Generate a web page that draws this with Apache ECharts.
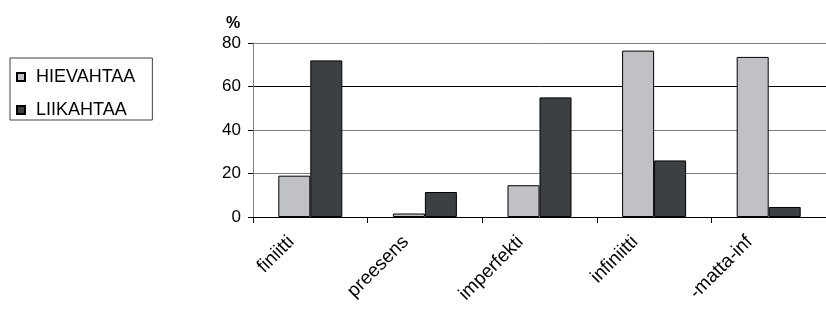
<!DOCTYPE html>
<html><head><meta charset="utf-8">
<script src="https://cdn.jsdelivr.net/npm/echarts@6/dist/echarts.min.js"></script>
<style>html,body{margin:0;padding:0;background:#fff}#c{width:826px;height:321px}</style>
</head><body><div id="c"></div>
<script>
var categories = ['finiitti', 'preesens', 'imperfekti', 'infiniitti', '-matta-inf'];
var seriesNames = ['HIEVAHTAA', 'LIIKAHTAA'];
var hievahtaa = [19, 1.6, 14.6, 76.5, 73.6];
var liikahtaa = [72, 11.5, 55, 26, 4.6];
var yTicks = [0, 20, 40, 60, 80];

var chart = echarts.init(document.getElementById('c'), null, {renderer: 'canvas'});
var font = '"Liberation Sans", Arial, sans-serif';
chart.setOption({
  animation: false,
  title: {text: '%', left: 221, top: 11, textStyle: {fontFamily: font, fontSize: 16, fontWeight: 'bold', color: '#000'}},
  legend: {
    orient: 'vertical', left: 10, top: 58,
    data: seriesNames,
    itemWidth: 8, itemHeight: 8, itemGap: 15,
    padding: [10, 17, 1, 6],
    borderColor: '#404040', borderWidth: 1,
    icon: 'rect',
    textStyle: {fontFamily: font, fontSize: 18, color: '#000', padding: [0, 0, 0, 6]}
  },
  grid: {left: 253, right: -3, top: 43, bottom: 104},
  xAxis: {
    type: 'category', data: categories,
    axisLine: {lineStyle: {color: '#000', width: 1}},
    axisTick: {show: true, length: 6, lineStyle: {color: '#000'}},
    axisLabel: {rotate: 45, margin: 3, fontFamily: font, fontSize: 19, color: '#000', padding: [0, 27, 0, 0], interval: 0}
  },
  yAxis: {
    type: 'value', min: yTicks[0], max: yTicks[yTicks.length - 1], interval: 20,
    axisLine: {show: true, lineStyle: {color: '#808080'}},
    axisTick: {show: true, length: 5, lineStyle: {color: '#000'}},
    axisLabel: {margin: 12, fontFamily: font, fontSize: 17, color: '#000'},
    splitLine: {show: true, lineStyle: {color: ['#000', '#808080', '#808080', '#000', '#808080'], width: 1}}
  },
  series: [
    {name: seriesNames[0], type: 'bar', data: hievahtaa, barWidth: 32, barGap: '0%',
     itemStyle: {color: '#c0c1c5', borderColor: '#000', borderWidth: 1}},
    {name: seriesNames[1], type: 'bar', data: liikahtaa, barWidth: 32, barGap: '0%',
     itemStyle: {color: '#3c4043', borderColor: '#000', borderWidth: 1}}
  ]
});
</script></body></html>
